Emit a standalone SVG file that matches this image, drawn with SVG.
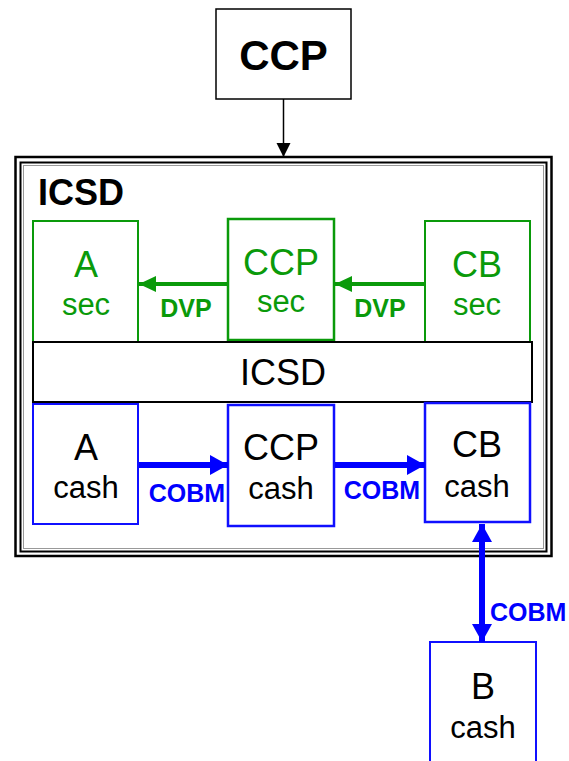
<svg xmlns="http://www.w3.org/2000/svg" width="569" height="761" viewBox="0 0 569 761">
<style>
text{font-family:"Liberation Sans",Arial,sans-serif;text-anchor:middle}
.g{fill:#fff;stroke:#0a9a0a;stroke-width:2}
.b{fill:#fff;stroke:#1010ff;stroke-width:2}
.gt{fill:#0a9a0a}
.bt{fill:#000}
.big{font-size:36px}
.sm{font-size:31px}
.lbl{font-size:25px;font-weight:bold}
</style>
<defs>
<marker id="ak" markerUnits="userSpaceOnUse" markerWidth="16" markerHeight="16" refX="14" refY="8" orient="auto"><path d="M0,1 L14,8 L0,15 Z" fill="#000"/></marker>
<marker id="ag" markerUnits="userSpaceOnUse" markerWidth="18" markerHeight="18" refX="17" refY="9" orient="auto"><path d="M0,1 L17,9 L0,17 Z" fill="#0a9a0a"/></marker>
<marker id="ab" markerUnits="userSpaceOnUse" markerWidth="20" markerHeight="22" refX="18" refY="11" orient="auto"><path d="M0,1 L18,11 L0,21 Z" fill="#0000ff"/></marker>
<marker id="abs" markerUnits="userSpaceOnUse" markerWidth="20" markerHeight="22" refX="2" refY="11" orient="auto"><path d="M20,1 L2,11 L20,21 Z" fill="#0000ff"/></marker>
</defs>

<g id="ccp-top">
<rect x="216" y="9" width="135" height="90" fill="#fff" stroke="#000" stroke-width="1.5"/>
<text x="283.5" y="70" style="font-size:42px;font-weight:bold">CCP</text>
</g>

<g id="icsd-outer">
<rect x="15.5" y="157" width="536" height="399" fill="#fff" stroke="#000" stroke-width="2.5"/>
<rect x="20.5" y="162.5" width="526" height="389" fill="none" stroke="#000" stroke-width="2"/>
<rect x="23.5" y="165.5" width="520" height="383" fill="none" stroke="#999" stroke-width="1"/>
<text x="38" y="205" style="font-size:36px;font-weight:bold;text-anchor:start">ICSD</text>
</g>

<g id="a-sec">
<rect class="g" x="33" y="221" width="105" height="125"/>
<text class="gt big" x="86" y="277">A</text>
<text class="gt sm" x="86" y="315">sec</text>
</g>
<g id="ccp-sec">
<rect class="g" x="228" y="219" width="106" height="121" style="stroke-width:2.5"/>
<text class="gt big" x="281" y="275">CCP</text>
<text class="gt sm" x="281" y="312">sec</text>
</g>
<g id="cb-sec">
<rect class="g" x="425" y="221" width="105" height="125"/>
<text class="gt big" x="477" y="277">CB</text>
<text class="gt sm" x="477" y="315">sec</text>
</g>

<g id="icsd-bar">
<rect x="33" y="342" width="499" height="60" fill="#fff" stroke="#000" stroke-width="2"/>
<text x="283" y="385" class="big">ICSD</text>
</g>

<g id="a-cash">
<rect class="b" x="33" y="404" width="105" height="120"/>
<text class="bt big" x="86" y="460">A</text>
<text class="bt sm" x="86" y="498">cash</text>
</g>
<g id="ccp-cash">
<rect class="b" x="228" y="405" width="106" height="121" style="stroke-width:2.5"/>
<text class="bt big" x="281" y="460">CCP</text>
<text class="bt sm" x="281" y="499">cash</text>
</g>
<g id="cb-cash">
<rect class="b" x="425" y="403" width="105" height="119" style="stroke-width:2.5"/>
<text class="bt big" x="477" y="457">CB</text>
<text class="bt sm" x="477" y="497">cash</text>
</g>
<g id="b-cash">
<rect class="b" x="430" y="642" width="106" height="130"/>
<text class="bt big" x="483" y="699">B</text>
<text class="bt sm" x="483" y="738">cash</text>
</g>

<g id="connectors">
<line x1="283.5" y1="99" x2="283.5" y2="157" stroke="#000" stroke-width="1.5" marker-end="url(#ak)"/>
<line x1="228" y1="284" x2="139" y2="284" stroke="#0a9a0a" stroke-width="4" marker-end="url(#ag)"/>
<line x1="425" y1="284" x2="335" y2="284" stroke="#0a9a0a" stroke-width="4" marker-end="url(#ag)"/>
<text class="gt lbl" x="186" y="317">DVP</text>
<text class="gt lbl" x="380" y="317">DVP</text>
<line x1="139" y1="465" x2="228" y2="465" stroke="#0000ff" stroke-width="6" marker-end="url(#ab)"/>
<line x1="335" y1="465" x2="425" y2="465" stroke="#0000ff" stroke-width="6" marker-end="url(#ab)"/>
<text x="187" y="502" class="lbl" fill="#0000ff">COBM</text>
<text x="382" y="499" class="lbl" fill="#0000ff">COBM</text>
<line x1="482" y1="524" x2="482" y2="642" stroke="#0000ff" stroke-width="6" marker-start="url(#abs)" marker-end="url(#ab)"/>
<text x="490" y="621" class="lbl" fill="#0000ff" style="text-anchor:start">COBM</text>
</g>
</svg>
